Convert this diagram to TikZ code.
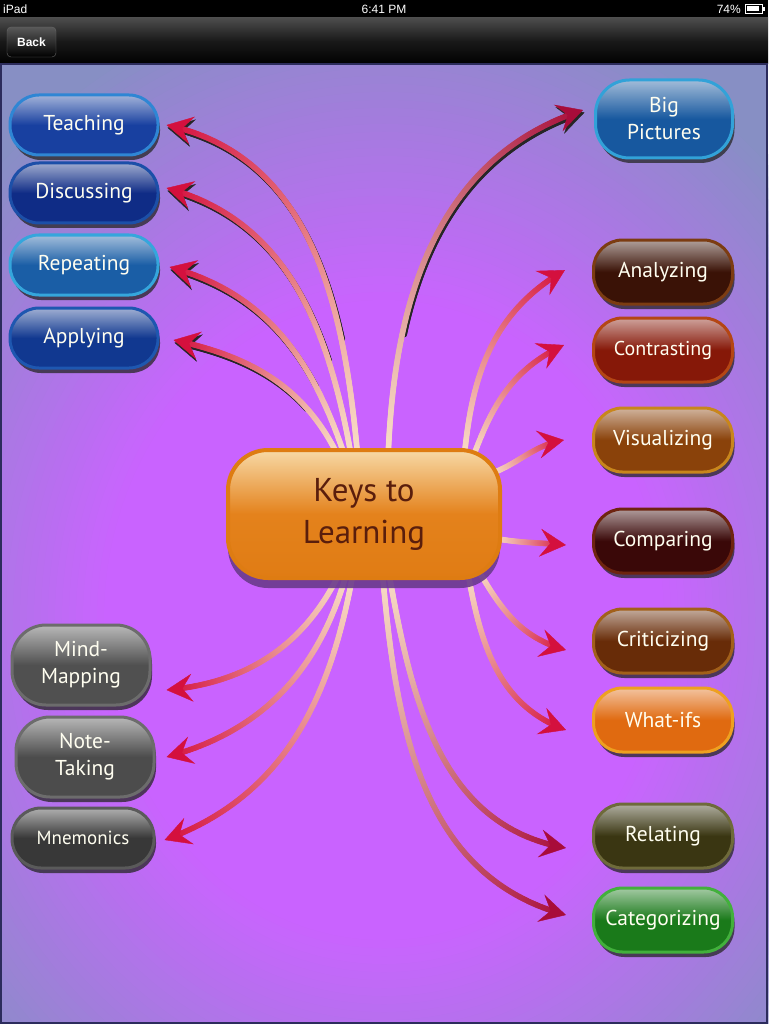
\documentclass[tikz,border=0pt]{standalone}
\usepackage{fontspec}
\setmainfont{PT Sans}
\newfontfamily\uifont{Liberation Sans}
\usetikzlibrary{arrows.meta,shadows,decorations.markings}

\pgfdeclarelayer{back}
\pgfdeclarelayer{links}
\pgfsetlayers{back,links,main}

\definecolor{bgmid}{rgb}{0.79,0.39,1.0}
\definecolor{bgedge}{rgb}{0.53,0.56,0.77}
\definecolor{linkcream}{HTML}{F8DEC6}
\definecolor{linkred}{HTML}{D4103E}
\definecolor{linkdark}{HTML}{A80C3A}
\definecolor{framecol}{HTML}{2C2C5C}
\definecolor{keysrim}{HTML}{DE7C12}
\definecolor{keystop}{HTML}{F7D9A6}
\definecolor{keysmid}{HTML}{E4821C}
\definecolor{keysbot}{HTML}{E07C14}
\definecolor{keystext}{HTML}{5A1E0C}
\definecolor{keysshadow}{HTML}{6A3A8C}
%pill rims and fills
\definecolor{teachrim}{HTML}{2F86D4}\definecolor{teachfill}{HTML}{1840A0}
\definecolor{discussrim}{HTML}{1C4FA8}\definecolor{discussfill}{HTML}{0F2C86}
\definecolor{repeatrim}{HTML}{35A6DC}\definecolor{repeatfill}{HTML}{1A5EA6}
\definecolor{applyrim}{HTML}{1E57B0}\definecolor{applyfill}{HTML}{113890}
\definecolor{mindrim}{HTML}{6C6C6C}\definecolor{mindfill}{HTML}{505050}
\definecolor{noterim}{HTML}{6C6C6C}\definecolor{notefill}{HTML}{4C4C4C}
\definecolor{mnemrim}{HTML}{5A5A5A}\definecolor{mnemfill}{HTML}{383838}
\definecolor{bigrim}{HTML}{32A2D8}\definecolor{bigfill}{HTML}{17589F}
\definecolor{analyzrim}{HTML}{7C3C12}\definecolor{analyzfill}{HTML}{3A1206}
\definecolor{contrastrim}{HTML}{B44614}\definecolor{contrastfill}{HTML}{861808}
\definecolor{visualrim}{HTML}{C8861C}\definecolor{visualfill}{HTML}{8A420A}
\definecolor{comparerim}{HTML}{6E2410}\definecolor{comparefill}{HTML}{3A0808}
\definecolor{criticrim}{HTML}{A2601A}\definecolor{criticfill}{HTML}{682C08}
\definecolor{whatifrim}{HTML}{EEA020}\definecolor{whatiffill}{HTML}{E06A10}
\definecolor{relaterim}{HTML}{6E6A3A}\definecolor{relatefill}{HTML}{3A3612}
\definecolor{categrim}{HTML}{42B03C}\definecolor{categfill}{HTML}{1A7A1A}

\tikzset{
  pill/.style={rectangle, rounded corners=29pt, minimum width=148pt, minimum height=60pt,
    line width=3pt, text=white!94!yellow, align=center, font=\fontsize{21.5}{27}\selectfont,
    drop shadow={shadow xshift=2pt, shadow yshift=-5pt, fill=black!85, opacity=0.75}},
  pillcol/.style={draw=#1rim, top color=#1fill!40!white, bottom color=#1fill, middle color=#1fill},
  keysbox/.style={rectangle, rounded corners=40pt, minimum width=272pt, minimum height=128pt,
    draw=keysrim, line width=4pt, top color=keystop, bottom color=keysbot, middle color=keysmid,
    text=keystext, align=center, font=\fontsize{33}{42}\selectfont,
    drop shadow={shadow xshift=0pt, shadow yshift=-10pt, fill=keysshadow, opacity=0.9}},
  link/.style={postaction={decorate, decoration={markings,
      mark=between positions 0 and -15pt step 1.2pt with {
        \pgfmathsetmacro\linkfrac{100*(\pgfkeysvalueof{/pgf/decoration/mark info/distance from start}/\pgfdecoratedpathlength)^1.25}
        \fill[#1!\linkfrac!linkcream] (0,0) circle (2.9pt);}}},
    postaction={decorate, decoration={markings,
      mark=at position 0.9999 with {\arrow[#1]{Stealth[length=26pt, width=28pt, inset=10pt]}}}}},
  linkshade/.style 2 args={preaction={decorate, decoration={markings,
      mark=between positions 0.3 and -15pt step 1.2pt with {
        \pgftransformresetnontranslations \fill[black!85] (1.5pt,-2.5pt) circle (2.9pt);}}},
    preaction={decorate, decoration={markings,
      mark=at position 0.9999 with {\pgftransformshift{\pgfpoint{#1}{#2}}\arrow[black!85]{Stealth[length=26pt, width=28pt, inset=10pt]}}}}},
}

\begin{document}
\begin{tikzpicture}[x=1pt, y=1pt]
	\useasboundingbox (0,0) rectangle (768,-1024);
	
	%screen frame
	\begin{pgfonlayer}{back}
		\fill[black] (0,0) rectangle (768,-18);
		\shade[top color=black!70, bottom color=black, middle color=black!90] (0,-18) rectangle (768,-64);
		\begin{scope}
			\clip (0,-64) rectangle (768,-1024);
			\fill[bgedge] (0,-64) rectangle (768,-1024);
			\foreach \i in {0,...,40} {
				\pgfmathsetmacro\glowt{1-\i/80}
				\pgfmathsetmacro\glowp{\i*2.5}
				\fill[bgmid!\glowp!bgedge] (384,-620) ellipse [x radius=\glowt*560, y radius=\glowt*640];
			}
		\end{scope}
		\draw[framecol, line width=2pt] (1,-64) rectangle (767,-1023);
	\end{pgfonlayer}
	
	%status bar
	\node[anchor=west, text=white!85, font=\uifont\fontsize{12}{14}\selectfont, inner sep=0pt] (ipad) at (3,-9) {iPad};
	\node[text=white!85, font=\uifont\fontsize{12}{14}\selectfont, inner sep=0pt] (clock) at (384,-9) {6:41 PM};
	\node[anchor=east, text=white!85, font=\uifont\fontsize{12}{14}\selectfont, inner sep=0pt] (charge) at (741,-9) {74\%};
	\draw[white!85, line width=1pt] (745,-4.5) rectangle (762,-13.5);
	\fill[white!85] (747,-6.5) rectangle (759,-11.5);
	\fill[white!85] (762,-7) rectangle (764.5,-11);
	\node[draw=black!60, rounded corners=4pt, top color=black!65, bottom color=black, minimum width=49pt,
		minimum height=30pt, text=white, font=\uifont\bfseries\fontsize{12}{14}\selectfont] (backbtn) at (31.5,-42) {Back};
	
	%center
	\node[keysbox] (keys) at (364,-514) {Keys to\\Learning};
	
	%left pills
	\node[pill, pillcol=teach] (teach) at (84,-125) {Teaching};
	\node[pill, pillcol=discuss] (discuss) at (84,-193) {Discussing};
	\node[pill, pillcol=repeat] (repeat) at (84,-265) {Repeating};
	\node[pill, pillcol=apply] (apply) at (84,-338) {Applying};
	
	\node[pill, pillcol=mind, minimum width=138pt, minimum height=80pt, rounded corners=34pt] (mind) at (81,-665) {Mind-\\Mapping};
	\node[pill, pillcol=note, minimum width=138pt, minimum height=80pt, rounded corners=34pt] (note) at (85,-757) {Note-\\Taking};
	\node[pill, pillcol=mnem, minimum width=142pt, font=\fontsize{19}{24}\selectfont] (mnem) at (83,-838) {Mnemonics};
	
	%right pills
	\node[pill, pillcol=big, minimum width=137pt, minimum height=78pt, rounded corners=34pt] (big) at (664,-119) {Big\\Pictures};
	\node[pill, pillcol=analyz, minimum width=139pt, minimum height=64pt] (analyz) at (663,-272) {Analyzing};
	\node[pill, pillcol=contrast, minimum width=139pt, minimum height=64pt, font=\fontsize{20}{24}\selectfont] (contrast) at (663,-350) {Contrasting};
	\node[pill, pillcol=visual, minimum width=139pt, minimum height=64pt] (visual) at (663,-440) {Visualizing};
	\node[pill, pillcol=compare, minimum width=139pt, minimum height=64pt] (compare) at (663,-541) {Comparing};
	\node[pill, pillcol=critic, minimum width=139pt, minimum height=64pt] (critic) at (663,-641) {Criticizing};
	\node[pill, pillcol=whatif, minimum width=139pt, minimum height=64pt] (whatif) at (663,-720) {What-ifs};
	\node[pill, pillcol=relate, minimum width=139pt, minimum height=64pt] (relate) at (663,-836) {Relating};
	\node[pill, pillcol=categ, minimum width=139pt, minimum height=64pt] (categ) at (663,-920) {Categorizing};
	
	%links
	\begin{pgfonlayer}{links}
		\path[linkshade={-1.5pt}{2.5pt}, link=linkred] ([xshift=-6pt,yshift=-12pt]keys.north) to[out=95, in=-12] ([xshift=7pt]teach.east);
		\path[linkshade={-1.5pt}{2.5pt}, link=linkred] ([xshift=-12pt,yshift=-12pt]keys.north) to[out=100, in=-15] ([xshift=7pt,yshift=5pt]discuss.east);
		\path[linkshade={-1.5pt}{2.5pt}, link=linkred] ([xshift=-18pt,yshift=-12pt]keys.north) to[out=108, in=-15] ([xshift=10pt,yshift=-2pt]repeat.east);
		\path[linkshade={-1.5pt}{2.5pt}, link=linkred] ([xshift=-24pt,yshift=-12pt]keys.north) to[out=115, in=-12] ([xshift=14pt,yshift=-2pt]apply.east);
		
		\path[linkshade={0.7pt}{-2.8pt}, link=linkdark] ([xshift=24pt,yshift=-12pt]keys.north) to[out=88, in=198] ([xshift=-11pt,yshift=9pt]big.west);
		\path[link=linkred] ([xshift=100pt,yshift=-12pt]keys.north) to[out=85, in=210] ([xshift=-27pt,yshift=2pt]analyz.west);
		\path[link=linkred] ([xshift=108pt,yshift=-12pt]keys.north) to[out=70, in=205] ([xshift=-28pt,yshift=5pt]contrast.west);
		\path[link=linkred] ([xshift=-12pt,yshift=40pt]keys.east) to[out=20, in=190] ([xshift=-28pt]visual.west);
		\path[link=linkred] ([xshift=-10pt,yshift=-24pt]keys.east) to[out=-10, in=175] ([xshift=-26pt,yshift=-4pt]compare.west);
		\path[link=linkred] ([xshift=113pt,yshift=12pt]keys.south) to[out=-60, in=165] ([xshift=-26pt,yshift=-9pt]critic.west);
		\path[link=linkred] ([xshift=103pt,yshift=12pt]keys.south) to[out=-80, in=160] ([xshift=-26pt,yshift=-10pt]whatif.west);
		\path[link=linkdark] ([xshift=24pt,yshift=12pt]keys.south) to[out=-80, in=170] ([xshift=-26pt,yshift=-12pt]relate.west);
		\path[link=linkdark] ([xshift=18pt,yshift=12pt]keys.south) to[out=-85, in=165] ([xshift=-26pt,yshift=5pt]categ.west);
		
		\path[link=linkred] ([xshift=-22pt,yshift=12pt]keys.south) to[out=-115, in=5] ([xshift=15pt,yshift=-25pt]mind.east);
		\path[link=linkred] ([xshift=-16pt,yshift=12pt]keys.south) to[out=-105, in=15] ([xshift=11pt]note.east);
		\path[link=linkred] ([xshift=-10pt,yshift=12pt]keys.south) to[out=-100, in=20] ([xshift=9pt,yshift=-2pt]mnem.east);
	\end{pgfonlayer}
	
\end{tikzpicture}
\end{document}
